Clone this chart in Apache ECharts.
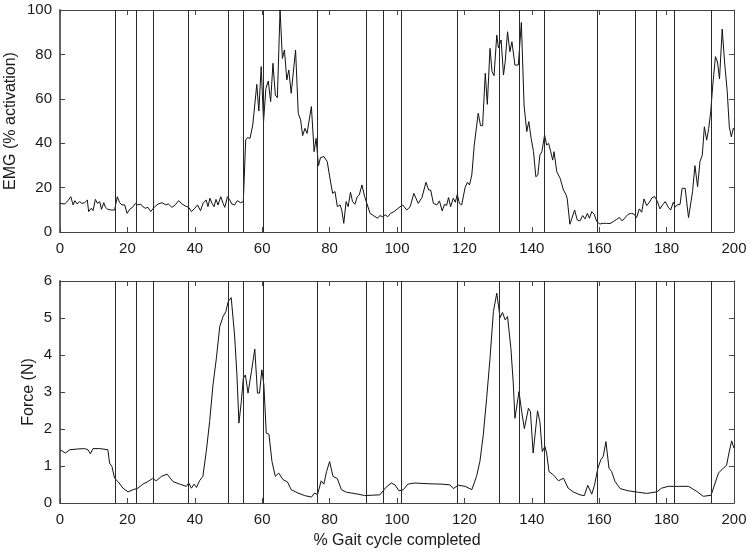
<!DOCTYPE html>
<html>
<head>
<meta charset="utf-8">
<script src="https://cdn.jsdelivr.net/npm/echarts@6/dist/echarts.min.js"></script>
<style>html,body{margin:0;padding:0;background:#fff;}#c{width:750px;height:554px;}</style>
</head>
<body>
<div id="c"></div>
<script>
// Tick labels / axis ranges
const xTicks = [0, 20, 40, 60, 80, 100, 120, 140, 160, 180, 200];
const emgTicks = [0, 20, 40, 60, 80, 100];
const forceTicks = [0, 1, 2, 3, 4, 5, 6];

// Gait event lines (% gait cycle)
const eventLines = [16.5, 22.6, 27.8, 38.2, 49.8, 54.5, 60.4, 76.2, 91.0, 95.8, 101.2, 118.0, 130.3, 136.4, 143.7, 159.3, 170.8, 176.9, 182.3, 193.2];

// EMG (% activation)
const emgX = [0,0.4,1.4,2.5,3.2,3.9,4.4,5.1,5.8,6.5,7.3,8.1,8.5,9.3,9.8,10.5,11.1,11.8,12.3,13.0,13.5,14.2,15.2,16.2,17.0,17.7,18.4,19.2,19.9,20.7,21.7,22.4,23.1,23.9,24.6,25.3,26.1,26.9,28.1,29.1,30.3,31.3,32.2,33.2,34.2,35.2,36.2,37.2,38.2,39.0,40.0,40.8,41.7,42.5,43.4,43.9,44.5,45.1,45.7,46.3,46.9,47.7,48.4,48.9,49.7,50.3,51.0,51.8,52.6,53.6,54.4,
55.1,55.6,56.4,57.2,58.4,59.0,59.7,60.4,61.1,61.8,62.5,63.2,63.9,64.5,65.3,66.0,66.6,67.3,67.9,68.6,69.9,70.7,71.4,72.0,72.7,73.3,74.6,75.4,76.0,76.7,77.3,78.3,79.3,80.1,80.9,81.6,82.3,83.1,83.6,84.2,84.9,85.5,86.2,86.8,87.5,88.2,88.8,89.6,90.4,91.2,92.0,93.0,94.2,94.9,95.7,96.5,97.3,98.1,99.1,100.1,101.7,102.9,103.9,105.0,106.3,107.4,108.6,109.4,110.0,110.8,111.8,112.6,113.4,114.1,114.7,115.3,115.9,116.7,117.3,117.9,118.5,119.2,120.2,120.9,121.5,122.2,122.9,123.4,124.1,124.8,125.4,126.2,126.8,127.6,128.2,128.8,129.6,130.1,130.9,131.6,132.1,132.8,133.5,134.1,135.0,136.0,136.9,137.7,138.5,139.1,139.8,140.5,141.2,141.8,142.4,143.0,143.8,144.4,145.0,145.6,146.2,146.6,147.4,148.4,149.4,150.1,150.5,151.3,151.9,152.7,153.5,154.3,155.1,155.8,156.5,157.1,157.8,158.5,159.3,160.2,161.2,162.2,163.2,164.2,165.2,166.0,166.8,167.7,168.6,169.6,170.4,171.1,171.9,172.6,173.3,174.1,174.9,175.7,176.5,177.3,178.0,178.8,179.6,180.4,181.2,182.0,182.6,183.2,184.0,184.6,185.5,186.5,187.1,187.7,188.4,189.2,189.9,190.6,191.2,191.9,192.5,193.1,193.7,194.5,195.1,195.7,196.5,197.2,198.0,198.6,199.2,199.8,200];
const emgY = [12.9,12.9,12.6,14.4,15.9,12.2,14.1,12.6,13.7,12.9,13.2,14.4,9.2,10.7,9.6,14.7,12.9,13.7,10.2,13.2,11.1,10.2,9.9,9.9,15.9,13.2,12.2,12.2,8.4,10.2,11.4,12.9,12.2,12.6,11.4,10.7,11.1,9.2,11.4,12.6,13.2,12.3,12.6,11.1,12.2,14.1,12.6,11.7,11.1,9.2,10.7,12.2,9.6,13.2,14.4,11.4,15.2,12.9,11.4,14.7,12.2,15.9,12.9,11.1,15.9,14.7,12.6,12.2,14.1,13.2,13.7,
41.4,42.5,42.2,48.2,66.5,54.5,74.5,49.7,64.7,68,58.7,76,61.7,60.5,100,78.2,82,68.5,73,62.5,82,53.5,50.5,43.4,46.7,44.4,56.5,36.2,42.2,29.9,33.5,34,31.7,24.2,17.4,18.2,11.4,12.2,9.9,3.9,13.7,11.4,17.9,13.7,12.5,15.9,16.7,21.2,15.9,12.2,8.4,7.4,6.2,7.4,6.9,7.7,6.9,8.4,9.2,10.4,12.2,9.9,11.4,17.4,12.9,15.5,22.4,18.9,18.9,12.9,12.2,14,9.5,12.5,11.9,15.5,11.4,15.2,13.4,17,12.9,12.2,20,22.4,21.2,25.7,38.9,38.9,53.5,47.9,47.9,71.5,57.5,82.7,72.2,70.4,88.7,83,86.5,70.7,76.7,90.2,81.2,85.7,75.2,75.2,94.4,57.2,45.2,49.7,42.2,36.2,24.9,25.7,34.7,36.2,43.7,39.2,39.9,36.2,32.4,36.2,27.2,24.2,18.9,17,15.2,3.5,6.2,9.9,5.4,5.0,7.4,5.9,8.4,6.2,9.2,8.0,4.7,3.6,3.9,3.9,3.8,4.7,5.7,6.5,5.0,6.5,8.0,8.4,8.0,6.5,10.4,8.9,14.9,11.9,13.4,15.5,15.9,13.7,10.4,12.2,13.7,11.4,9.9,13.4,11.3,12.2,12.5,19.7,19.7,6.5,12.2,18.2,29.9,20.4,31.7,34.7,47.4,41.4,46.7,54.2,66.2,79,76.6,68.9,91.4,76.6,63.2,47.4,42.9,46.7,46];

// Force (N)
const forceX = [0,1.6,2.9,5.3,7.3,8.3,9.0,9.8,11.8,14.2,14.7,15.4,16.2,17.2,18.7,20.2,21.7,23.1,24.6,26.1,27.4,28.6,30.1,31.8,33.5,35.5,37.5,38.2,39.0,39.8,40.5,41.4,42.4,43.4,44.4,45.4,46.4,47.4,48.4,49.2,49.9,50.8,51.8,52.5,53.1,53.8,54.4,55.0,55.8,56.8,57.8,58.6,59.2,59.9,60.5,61.2,62.0,62.9,63.9,64.9,66.2,67.5,68.6,70.6,72.6,74.6,75.6,76.4,77.5,78.3,79.1,80.0,81.0,82.3,83.5,85.0,86.4,88.4,90.4,92.4,94.9,96.8,98.3,99.4,100.6,101.9,103.2,105.3,109.3,113.3,115.7,116.7,118.2,120.2,122.2,123.6,124.6,125.6,126.6,127.6,128.6,129.6,130.6,131.3,132.1,132.8,133.8,134.5,135.0,136.2,137.0,137.8,139.0,139.6,140.4,141.7,142.4,143.1,143.9,144.4,145.1,146.4,147.9,149.4,150.8,152.3,154.3,155.6,156.6,157.8,158.6,159.6,160.5,161.2,162.0,162.9,163.7,164.7,166.2,168.6,171.6,174.1,177.1,178.5,180.5,183.5,186.5,189.0,190.9,193.2,194.4,195.4,196.8,197.8,198.5,199.3,200];
const forceY = [1.44,1.35,1.44,1.46,1.47,1.44,1.33,1.47,1.47,1.44,1.08,0.99,0.67,0.58,0.40,0.30,0.36,0.40,0.51,0.58,0.66,0.60,0.72,0.78,0.58,0.51,0.45,0.54,0.40,0.51,0.42,0.60,0.72,1.39,2.2,3.19,3.91,4.77,5.04,5.17,5.44,5.55,4.54,3.46,2.16,2.74,3.37,3.46,2.97,3.55,4.16,2.97,2.97,3.60,3.19,1.89,1.86,1.12,0.72,0.81,0.63,0.57,0.36,0.27,0.20,0.16,0.27,0.22,0.60,0.51,0.85,1.12,0.72,0.66,0.36,0.29,0.27,0.24,0.20,0.21,0.22,0.43,0.54,0.49,0.33,0.36,0.51,0.54,0.52,0.51,0.49,0.39,0.48,0.45,0.36,0.72,1.12,1.84,2.83,3.91,5.17,5.67,5.01,5.15,4.95,5.04,4.18,3.24,2.29,3.01,2.47,2.01,2.56,2.47,1.35,2.49,2.20,1.39,1.53,1.35,0.85,0.76,0.60,0.67,0.40,0.30,0.22,0.20,0.48,0.24,0.48,0.94,1.17,1.26,1.66,0.94,0.85,0.58,0.39,0.33,0.29,0.26,0.30,0.40,0.45,0.45,0.45,0.31,0.18,0.21,0.54,0.81,0.94,1.02,1.35,1.68,1.48];

const FONT = '"Liberation Sans", Arial, Helvetica, sans-serif';
const TXT = '#1a1a1a';
const AX = '#444';

function zip(a, b) { return a.map((v, i) => [v, b[i]]); }

function xAx(gi, pos, labels, name) {
  return {
    type: 'value', gridIndex: gi, position: pos,
    min: xTicks[0], max: xTicks[xTicks.length - 1], interval: xTicks[1] - xTicks[0],
    axisLine: { show: true, onZero: false, lineStyle: { color: AX, width: 1 } },
    axisTick: { show: true, inside: true, length: 5, lineStyle: { color: AX } },
    axisLabel: { show: labels, fontFamily: FONT, fontSize: 15, color: TXT, margin: 9 },
    splitLine: { show: false },
    name: name || '', nameLocation: 'middle', nameGap: 30, nameMoveOverlap: false,
    nameTextStyle: { fontFamily: FONT, fontSize: 16, color: TXT }
  };
}
function yAx(gi, pos, ticks, labels, name, gap) {
  return {
    type: 'value', gridIndex: gi, position: pos,
    min: ticks[0], max: ticks[ticks.length - 1], interval: ticks[1] - ticks[0],
    axisLine: { show: true, onZero: false, lineStyle: { color: pos === 'left' ? '#666' : AX, width: pos === 'left' ? 2 : 1 } },
    axisTick: { show: true, inside: true, length: 5, lineStyle: { color: AX } },
    axisLabel: { show: labels, fontFamily: FONT, fontSize: 15, color: TXT, margin: 8 },
    splitLine: { show: false },
    name: name || '', nameLocation: 'middle', nameGap: gap || 30, nameMoveOverlap: false,
    nameTextStyle: { fontFamily: FONT, fontSize: 16, color: TXT }
  };
}
function markLines() {
  return {
    silent: true, symbol: ['none', 'none'], label: { show: false },
    lineStyle: { color: '#2a2a2a', width: 1, type: 'solid' },
    data: eventLines.map(v => ({ xAxis: v }))
  };
}

const chart = echarts.init(document.getElementById('c'), null, { renderer: 'canvas' });
chart.setOption({
  animation: false,
  backgroundColor: '#fff',
  grid: [
    { left: 60, right: 16, top: 10, height: 222, containLabel: false, outerBoundsMode: 'none' },
    { left: 60, right: 16, top: 281, height: 222, containLabel: false, outerBoundsMode: 'none' }
  ],
  xAxis: [
    xAx(0, 'bottom', true),
    xAx(0, 'top', false),
    xAx(1, 'bottom', true, '% Gait cycle completed'),
    xAx(1, 'top', false)
  ],
  yAxis: [
    yAx(0, 'left', emgTicks, true, 'EMG (% activation)', 41),
    yAx(0, 'right', emgTicks, false),
    yAx(1, 'left', forceTicks, true, 'Force (N)', 23),
    yAx(1, 'right', forceTicks, false)
  ],
  series: [
    {
      type: 'line', xAxisIndex: 0, yAxisIndex: 0, data: zip(emgX, emgY),
      showSymbol: false, lineStyle: { color: '#111', width: 1 }, markLine: markLines(), z: 3
    },
    {
      type: 'line', xAxisIndex: 2, yAxisIndex: 2, data: zip(forceX, forceY),
      showSymbol: false, lineStyle: { color: '#111', width: 1 }, markLine: markLines(), z: 3
    }
  ]
});
</script>
</body>
</html>
